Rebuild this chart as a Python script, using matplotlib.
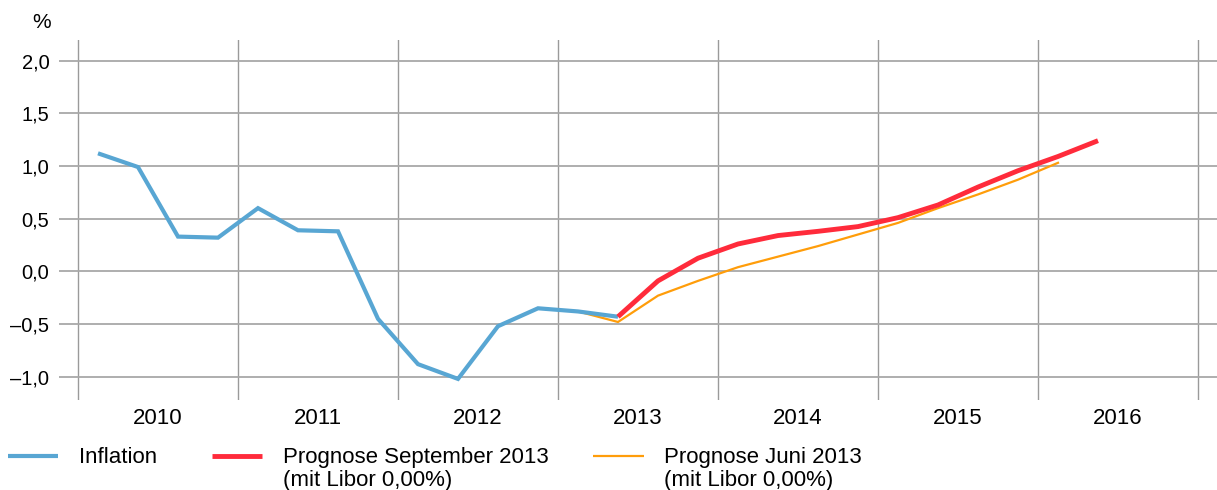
import matplotlib
matplotlib.use("Agg")
import matplotlib.pyplot as plt
from matplotlib.lines import Line2D
from matplotlib.ticker import FixedLocator, FuncFormatter
import matplotlib.transforms as mtransforms

plt.rcParams['font.family'] = ['Liberation Sans', 'DejaVu Sans']

# ---------------- data ----------------
inflation_quarters = ["2010Q1", "2010Q2", "2010Q3", "2010Q4",
                      "2011Q1", "2011Q2", "2011Q3", "2011Q4",
                      "2012Q1", "2012Q2", "2012Q3", "2012Q4",
                      "2013Q1", "2013Q2"]
inflation = [1.12, 0.99, 0.33, 0.32, 0.60, 0.39, 0.38, -0.45,
             -0.88, -1.02, -0.52, -0.35, -0.38, -0.43]

sept_quarters = ["2013Q2", "2013Q3", "2013Q4", "2014Q1", "2014Q2", "2014Q3",
                 "2014Q4", "2015Q1", "2015Q2", "2015Q3", "2015Q4", "2016Q1",
                 "2016Q2"]
prognose_sept = [-0.43, -0.09, 0.125, 0.26, 0.34, 0.38, 0.425, 0.51,
                 0.63, 0.80, 0.955, 1.09, 1.24]

june_quarters = ["2013Q1", "2013Q2", "2013Q3", "2013Q4", "2014Q1", "2014Q2",
                 "2014Q3", "2014Q4", "2015Q1", "2015Q2", "2015Q3", "2015Q4",
                 "2016Q1"]
prognose_juni = [-0.38, -0.48, -0.23, -0.09, 0.04, 0.14, 0.24, 0.35,
                 0.46, 0.60, 0.73, 0.87, 1.03]

years = [2010, 2011, 2012, 2013, 2014, 2015, 2016]
y_ticks = [-1.0, -0.5, 0.0, 0.5, 1.0, 1.5, 2.0]

labels = ["Inflation",
          "Prognose September 2013\n(mit Libor 0,00%)",
          "Prognose Juni 2013\n(mit Libor 0,00%)"]


def qpos(q):
    y, n = q.split("Q")
    return int(y) + (int(n) - 0.5) / 4.0


BLUE = "#58a6d3"
RED = "#ff2b3b"
ORANGE = "#ff9d0a"
GRID = "#9a9a9a"

W, H = 1217, 490
fig = plt.figure(figsize=(W / 100, H / 100), dpi=100)
ax = fig.add_axes([59 / W, 1 - 400 / H, (W - 59) / W, 360 / H])

l_or, = ax.plot([qpos(q) for q in june_quarters], prognose_juni, color=ORANGE,
                lw=1.6, solid_joinstyle='miter', zorder=3)
l_bl, = ax.plot([qpos(q) for q in inflation_quarters], inflation, color=BLUE,
                lw=3.0, solid_joinstyle='miter', solid_capstyle='butt', zorder=4)
l_rd, = ax.plot([qpos(q) for q in sept_quarters], prognose_sept, color=RED,
                lw=3.5, solid_joinstyle='miter', solid_capstyle='butt', zorder=5)

ax.set_xlim(2010 - 19 / 160, 2010 + (W - 78) / 160)
ax.set_ylim(-1.22, 2.195)

for s in ax.spines.values():
    s.set_visible(False)

# vertical gridlines at year boundaries
ax.xaxis.set_major_locator(FixedLocator(years + [years[-1] + 1]))
ax.xaxis.set_major_formatter(FuncFormatter(lambda v, p: ""))
ax.xaxis.set_minor_locator(FixedLocator([y + 0.5 for y in years]))
ax.xaxis.set_minor_formatter(FuncFormatter(lambda v, p: f"{int(v)}"))
ax.tick_params(axis='x', which='both', length=0)
ax.tick_params(axis='x', which='minor', labelsize=16, pad=5.5)
ax.grid(axis='x', which='major', color=GRID, lw=1.0)

ax.yaxis.set_major_locator(FixedLocator(y_ticks))
ax.yaxis.set_major_formatter(FuncFormatter(
    lambda v, p: (f"{v:.1f}").replace(".", ",").replace("-", "\u2013")))
ax.tick_params(axis='y', length=0, labelsize=14.5, pad=7)
ax.grid(axis='y', color="#a8a8a8", lw=1.3)
ax.set_axisbelow(True)

# pixel transform for figure-level annotations
px = mtransforms.Affine2D().scale(1 / W, -1 / H).translate(0, 1) + fig.transFigure

fig.text(42, 23, "%", transform=px, fontsize=15, ha='center', va='center')

# legend (manual, handles aligned with first text line)
entries = [(l_bl, 8, 58, 79), (l_rd, 212, 262, 283), (l_or, 593, 644, 664)]
for (line, x0, x1, xt), lab in zip(entries, labels):
    fig.add_artist(Line2D([x0, x1], [456, 456], transform=px,
                          color=line.get_color(), lw=line.get_linewidth(),
                          solid_capstyle='butt'))
    parts = lab.split("\n")
    for i, part in enumerate(parts):
        fig.text(xt, 463 + 22.5 * i, part, transform=px, fontsize=16,
                 ha='left', va='baseline')

fig.savefig("out.png", dpi=100)
